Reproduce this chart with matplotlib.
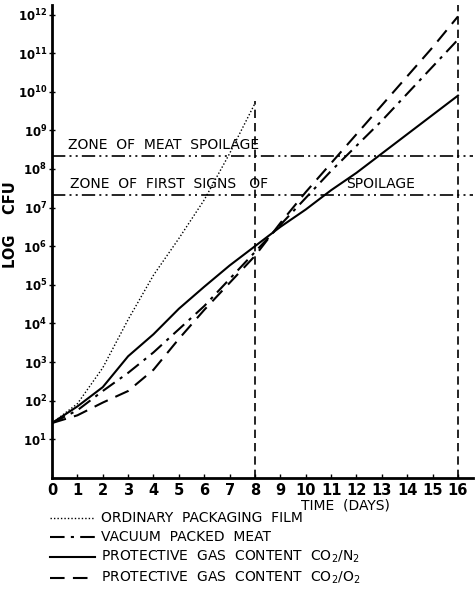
import numpy as np
import matplotlib
matplotlib.use('Agg')
import matplotlib.pyplot as plt

plt.rcParams['font.family'] = ['DejaVu Sans']

# values: log10(CFU) per day
days = [0, 1, 2, 3, 4, 5, 6, 7, 8, 9, 10, 11, 12, 13, 14, 15, 16]
film_days = [0, 1, 2, 3, 4, 5, 6, 7, 8]
film_log = [1.42, 1.92, 2.85, 4.1, 5.25, 6.2, 7.2, 8.4, 9.7]
vacuum_log = [1.42, 1.75, 2.25, 2.72, 3.25, 3.85, 4.45, 5.15, 5.85, 6.55, 7.25, 7.95, 8.6, 9.25, 9.95, 10.65, 11.35]
co2n2_log = [1.42, 1.85, 2.35, 3.15, 3.72, 4.38, 4.95, 5.5, 6.0, 6.5, 6.95, 7.45, 7.9, 8.4, 8.9, 9.4, 9.9]
co2o2_log = [1.42, 1.62, 1.95, 2.25, 2.8, 3.6, 4.35, 5.05, 5.75, 6.6, 7.4, 8.15, 8.9, 9.65, 10.4, 11.15, 11.95]

spoil_log = 8.33       # zone of meat spoilage
first_log = 7.33       # zone of first signs of spoilage
y_exps = list(range(1, 13))
x_ticks = list(range(0, 17))

fig = plt.figure(figsize=(4.77, 6.08), dpi=100)
ax = fig.add_axes([0.109, 0.214, 0.883, 0.778])
ax.set_yscale('log')

k = 'black'
ax.plot(film_days, 10**np.array(film_log), color=k, lw=1.0, linestyle=(0, (1, 1.5)))
ax.plot(days, 10**np.array(vacuum_log), color=k, lw=1.5, linestyle=(0, (7, 3, 1.5, 3)))
ax.plot(days, 10**np.array(co2n2_log), color=k, lw=1.5, linestyle='-')
ax.plot(days, 10**np.array(co2o2_log), color=k, lw=1.5, linestyle=(0, (7, 4)))

# spoilage zones
zone_ls = (0, (8, 2.5, 1.2, 2.5, 1.2, 2.5))
ax.axhline(10**spoil_log, color=k, lw=1.2, linestyle=zone_ls)
ax.axhline(10**first_log, color=k, lw=1.2, linestyle=zone_ls)
ax.text(0.65, 10**(spoil_log + 0.1), 'ZONE  OF  MEAT  SPOILAGE', fontsize=10, va='bottom')
ax.text(0.7, 10**(first_log + 0.1), 'ZONE  OF  FIRST  SIGNS   OF', fontsize=10, va='bottom')
ax.text(11.6, 10**(first_log + 0.1), 'SPOILAGE', fontsize=10, va='bottom')

# vertical markers at day 8 and day 16
ax.plot([8, 8], [1, 10**9.75], color=k, lw=1.2, linestyle=(0, (5, 3)))
ax.plot([16, 16], [1, 10**12.4], color=k, lw=1.2, linestyle=(0, (5, 3)))

ax.set_xlim(0, 16.6)
ax.set_ylim(1, 10**12.25)
ax.set_xticks(x_ticks)
ax.set_xticklabels([str(t) for t in x_ticks], fontsize=10.5, fontweight='bold')
ax.set_yticks([10**e for e in y_exps])
ax.set_yticklabels([r'$\mathbf{10^{%d}}$' % e for e in y_exps], fontsize=8.5)
ax.yaxis.set_minor_locator(matplotlib.ticker.NullLocator())
ax.tick_params(axis='x', direction='in', length=3, width=1, pad=4)
ax.tick_params(axis='y', direction='inout', length=5, width=1, pad=1)
for s in ['top', 'right']:
    ax.spines[s].set_visible(False)
for s in ['left', 'bottom']:
    ax.spines[s].set_linewidth(2)

fig.text(0.022, 0.63, 'LOG    CFU', rotation=90, fontsize=10.5, fontweight='bold', ha='center', va='center')
fig.text(0.725, 0.168, 'TIME  (DAYS)', fontsize=10, ha='center', va='center')

# legend drawn by hand under the plot
legend_rows = [
    ('ORDINARY  PACKAGING  FILM', (0, (1, 1.5)), 1.0),
    ('VACUUM  PACKED  MEAT', (0, (7, 3, 1.5, 3)), 1.5),
    (r'PROTECTIVE  GAS  CONTENT  CO$_2$/N$_2$', '-', 1.5),
    (r'PROTECTIVE  GAS  CONTENT  CO$_2$/O$_2$', (0, (7, 4)), 1.5),
]
ys = [0.148, 0.117, 0.084, 0.050]
for (lab, ls, lw), y in zip(legend_rows, ys):
    fig.add_artist(plt.Line2D([0.105, 0.2], [y, y], color=k, lw=lw, linestyle=ls))
    fig.text(0.212, y, lab, fontsize=10, va='center')

fig.savefig('out.png', dpi=100)
